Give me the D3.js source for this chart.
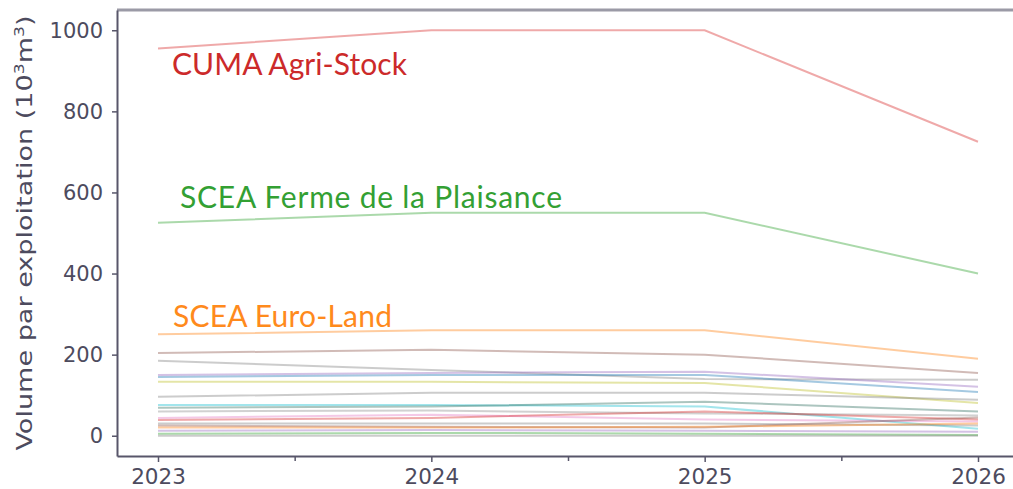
<!DOCTYPE html>
<html>
<head>
<meta charset="utf-8">
<script src="https://cdn.jsdelivr.net/npm/d3@7"></script>
<style>
  html, body { margin: 0; padding: 0; background: #fff; }
  svg { display: block; }
</style>
</head>
<body>
<svg id="chart" width="1013" height="489"></svg>
<script>
// Campaign years on the x axis
const years = [2023, 2024, 2025, 2026];
const yTicks = [0, 200, 400, 600, 800, 1000];

// Highlighted farms (volume per farm, thousand m³)
const highlightNames = ["CUMA Agri-Stock", "SCEA Ferme de la Plaisance", "SCEA Euro-Land"];
const cumaAgriStock = [955, 1000, 1000, 725];
const fermePlaisance = [525, 550, 550, 400];
const euroLand = [250, 260, 260, 190];

// Remaining farms
const otherFarms = [
  [204, 212, 200, 155],
  [185, 162, 140, 138],
  [150, 155, 158, 121],
  [145, 150, 150, 108],
  [133, 133, 130, 81],
  [96, 106, 106, 89],
  [76, 76, 72, 17],
  [69, 72, 84, 60],
  [60, 62, 55, 50],
  [44, 52, 40, 35],
  [39, 44, 60, 40],
  [30, 30, 30, 25],
  [25, 22, 20, 45],
  [20, 20, 22, 30],
  [12, 14, 12, 10],
  [5, 7, 5, 2],
  [0, 0, 0, 0]
];

const highlightColors = ["#d62728", "#2ca02c", "#ff7f0e"];
const otherColors = ["#8c564b", "#7f7f7f", "#9467bd", "#1f77b4", "#bcbd22", "#7f7f7f",
  "#17becf", "#2f6f5f", "#8c8c8c", "#e377c2", "#d62728", "#7f7f7f", "#8c564b",
  "#ff7f0e", "#9467bd", "#2ca02c", "#7f7f7f"];

const svg = d3.select("#chart");
const margin = { left: 117, top: 10 };
const plotW = 902, plotH = 446;

const x = d3.scaleLinear().domain([2022.85, 2026.15]).range([0, plotW]);
const y = d3.scaleLinear().domain([-50, 1050]).range([plotH, 0]);

const g = svg.append("g").attr("transform", `translate(${margin.left},${margin.top})`);

const line = d3.line()
  .x((d, i) => x(years[i]))
  .y(d => y(d));

// Background farms
g.append("g").selectAll("path")
  .data(otherFarms)
  .join("path")
  .attr("d", line)
  .attr("fill", "none")
  .attr("stroke", (d, i) => otherColors[i % otherColors.length])
  .attr("stroke-opacity", 0.4)
  .attr("stroke-width", 2);

// Highlighted farms
const highlights = [cumaAgriStock, fermePlaisance, euroLand];
g.append("g").selectAll("path")
  .data(highlights)
  .join("path")
  .attr("d", line)
  .attr("fill", "none")
  .attr("stroke", (d, i) => highlightColors[i])
  .attr("stroke-opacity", 0.4)
  .attr("stroke-width", 2);

// Frame
const axisColor = "#58566a";
g.append("line").attr("x1", 0).attr("x2", plotW).attr("y1", 0).attr("y2", 0)
  .attr("stroke", "#9b9aa6").attr("stroke-width", 3);
g.append("line").attr("x1", plotW).attr("x2", plotW).attr("y1", 0).attr("y2", plotH)
  .attr("stroke", axisColor).attr("stroke-width", 2);

// Y axis
const yAxis = g.append("g")
  .call(d3.axisLeft(y).tickValues(yTicks).tickFormat(d3.format("d"))
    .tickSize(5).tickSizeOuter(0).tickPadding(9));
// X axis: labelled years plus unlabelled half-year ticks
const xAxis = g.append("g").attr("transform", `translate(0,${plotH})`)
  .call(d3.axisBottom(x).tickValues(years).tickFormat(d3.format("d"))
    .tickSize(6).tickSizeOuter(0).tickPadding(6));
const xMinor = g.append("g").attr("transform", `translate(0,${plotH})`)
  .call(d3.axisBottom(x).tickValues([2023.5, 2024.5, 2025.5]).tickFormat("").tickSize(5));
xMinor.select(".domain").remove();

[yAxis, xAxis, xMinor].forEach(a => {
  a.attr("font-family", null).attr("font-size", null);
  a.select(".domain").attr("stroke", axisColor).attr("stroke-width", 2);
  a.selectAll(".tick line").attr("stroke", axisColor).attr("stroke-width", 1.5);
  a.selectAll(".tick text")
    .attr("fill", "#4d4b5e")
    .style("font-family", "'DejaVu Sans', sans-serif");
});
yAxis.selectAll(".tick text").style("font-size", "21px");
xAxis.selectAll(".tick text").style("font-size", "21.5px").attr("dy", "0.74em");

// Y axis title with superscripts, glyphs stretched along the axis
const yTitle = svg.append("text")
  .attr("transform", `translate(32,${margin.top + plotH / 2}) rotate(-90) scale(1.23,1)`)
  .attr("text-anchor", "middle")
  .attr("fill", "#4d4b5e")
  .style("font-family", "'DejaVu Sans', sans-serif")
  .style("font-size", "22px");
yTitle.append("tspan").text("Volume par exploitation (10");
yTitle.append("tspan").attr("baseline-shift", "super").style("font-size", "14px").text("3");
yTitle.append("tspan").text("m");
yTitle.append("tspan").attr("baseline-shift", "super").style("font-size", "14px").text("3");
yTitle.append("tspan").text(")");

// Farm name labels next to their lines
const labelColors = ["#cc2a2a", "#33a033", "#ff8a1c"];
const labelDx = [14, 22, 15];
const labelDy = [26, -15, -7];
const labelWidths = [235, 382, 219];
g.append("g").selectAll("text")
  .data(highlights)
  .join("text")
  .attr("x", (d, i) => x(years[0]) + labelDx[i])
  .attr("y", (d, i) => y(d[0]) + labelDy[i])
  .attr("fill", (d, i) => labelColors[i])
  .attr("textLength", (d, i) => labelWidths[i])
  .attr("lengthAdjust", "spacing")
  .style("font-family", "Lato, sans-serif")
  .style("font-size", "30px")
  .text((d, i) => highlightNames[i]);
</script>
</body>
</html>
